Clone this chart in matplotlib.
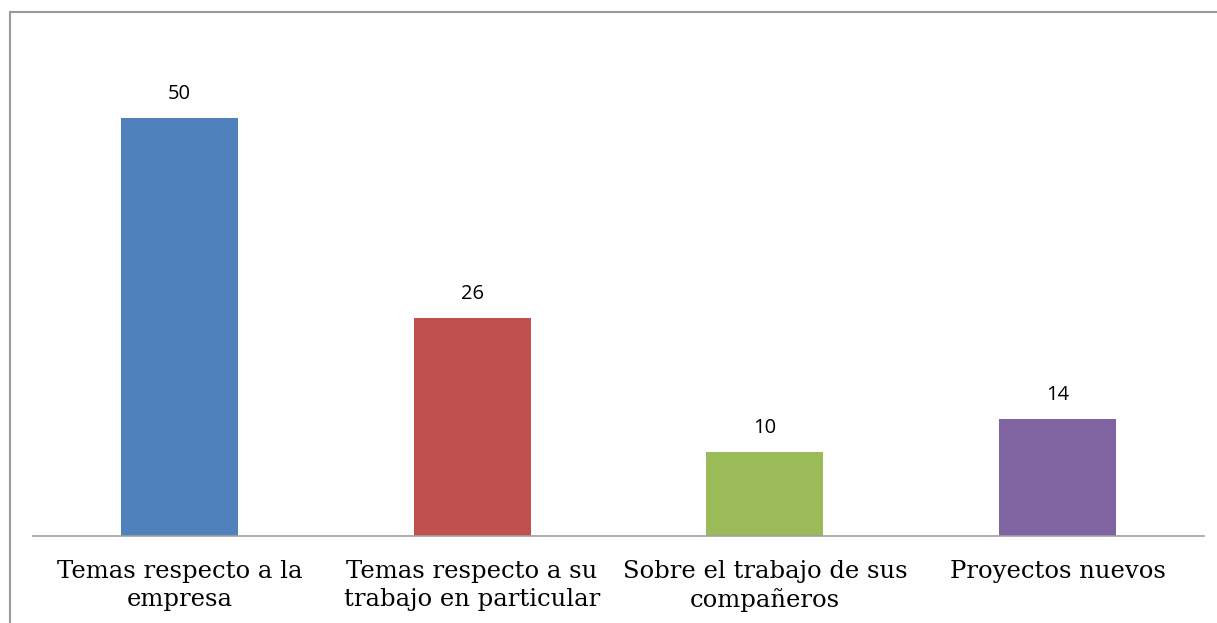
import matplotlib
matplotlib.use("Agg")
import matplotlib.pyplot as plt
from matplotlib.patches import Rectangle

# datos
categorias = ["Temas respecto a la\nempresa",
              "Temas respecto a su\ntrabajo en particular",
              "Sobre el trabajo de sus\ncompañeros",
              "Proyectos nuevos"]
valores = [50, 26, 10, 14]
colores = ["#4F81BD", "#C0504D", "#9BBB59", "#8064A2"]

fig = plt.figure(figsize=(12.17, 6.23), dpi=100)
ax = fig.add_axes([33/1217, 87/623, 1171/1217, 502/623])

x = range(len(valores))
bars = ax.bar(x, valores, width=0.4, color=colores)
ax.set_xlim(-0.5, 3.5)
ax.set_ylim(0, 60)

for b, v in zip(bars, valores):
    ax.annotate(str(v), (b.get_x() + b.get_width()/2, v), xytext=(0, 14),
                textcoords="offset pixels", ha="center", va="bottom",
                fontsize=14.5, family="Open Sans", color="black")

ax.set_xticks(list(x))
ax.set_xticklabels(categorias, fontsize=17.5, family="DejaVu Serif", linespacing=1.3)
ax.tick_params(axis="x", length=0, pad=17)
ax.set_yticks([])
for s in ["top", "right", "left"]:
    ax.spines[s].set_visible(False)
ax.spines["bottom"].set_color("#A0A0A0")
ax.spines["bottom"].set_linewidth(1.2)

# marco del gráfico
fig.patches.append(Rectangle((10/1217, -0.1), 1.2, (623-12)/623 + 0.1,
                             transform=fig.transFigure, fill=False,
                             edgecolor="#9A9A9A", linewidth=1.5))

fig.savefig("out.png", dpi=100)
